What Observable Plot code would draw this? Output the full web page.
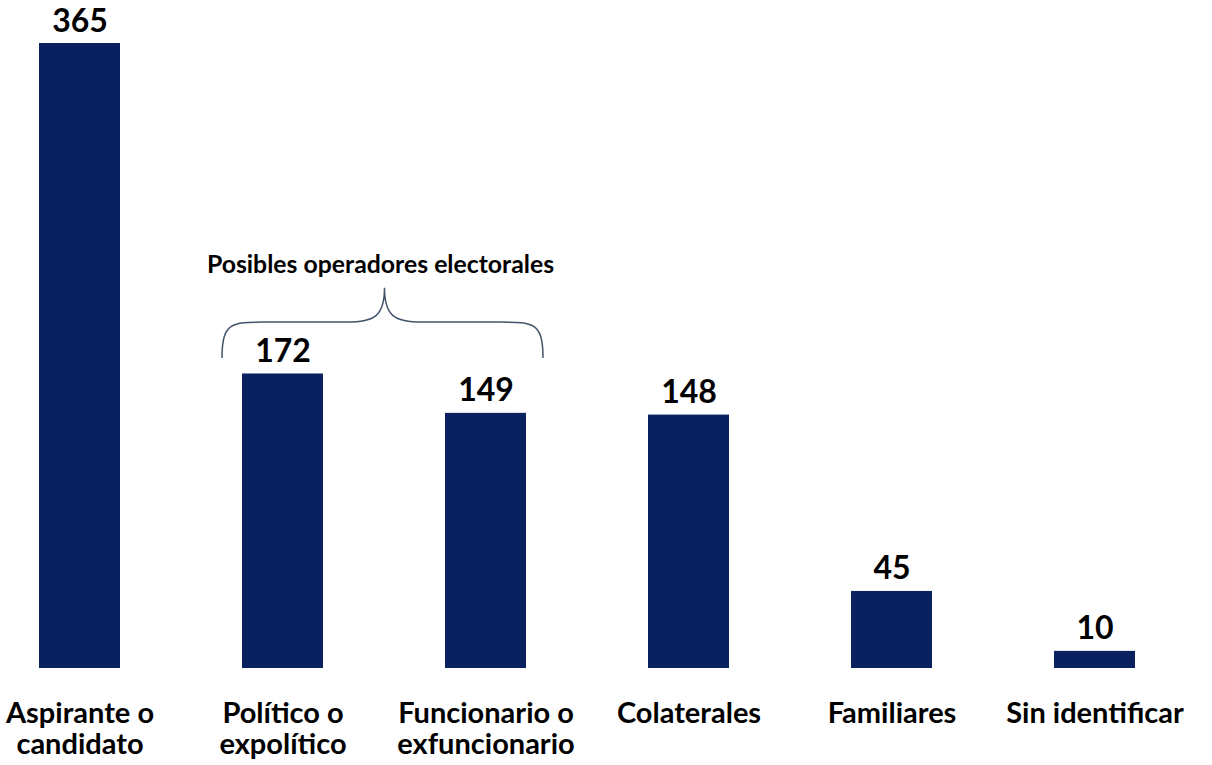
<!DOCTYPE html>
<html>
<head>
<meta charset="utf-8">
<script src="https://cdn.jsdelivr.net/npm/d3@7"></script>
<script src="https://cdn.jsdelivr.net/npm/@observablehq/plot@0.6"></script>
<style>
  html, body { margin: 0; padding: 0; background: #fff; }
  #chart svg { display: block; }
</style>
</head>
<body>
<div id="chart"></div>
<script>
const categories = ["Aspirante o\ncandidato", "Político o\nexpolítico", "Funcionario o\nexfuncionario", "Colaterales", "Familiares", "Sin identificar"];
const values = [365, 172, 149, 148, 45, 10];
const bracketLabel = "Posibles operadores electorales";
const bracketFrom = "Político o\nexpolítico";
const bracketTo = "Funcionario o\nexfuncionario";

const data = categories.map((c, i) => ({category: c, value: values[i]}));

function bracketMark(index, scales, values_, dimensions) {
  const x = scales.x, y = scales.y;
  const bw = x.bandwidth();
  const l = x(bracketFrom) - 20;
  const r = x(bracketTo) + bw + 17;
  const yb = y(181), ym = y(202), yt = y(222);
  const c = (l + r) / 2 + 2;
  const d = `M${l},${yb} C${l},${ym} ${l+10},${ym} ${l+42},${ym} L${c-38},${ym} C${c-10},${ym} ${c},${ym-6} ${c},${yt}` +
            ` C${c},${ym-6} ${c+10},${ym} ${c+38},${ym} L${r-42},${ym} C${r-10},${ym} ${r},${ym} ${r},${yb}`;
  const g = d3.create("svg:g");
  g.append("path").attr("d", d).attr("fill", "none").attr("stroke", "#44546a").attr("stroke-width", 1.5);
  g.append("text").attr("x", c - 4).attr("y", yt - 15)
    .attr("text-anchor", "middle")
    .attr("font-family", "Lato, sans-serif").attr("font-weight", "bold").attr("font-size", 24.8)
    .attr("fill", "#000").text(bracketLabel);
  return g.node();
}

const chart = Plot.plot({
  width: 1212,
  height: 765,
  marginLeft: 38,
  marginRight: 75,
  marginTop: 43,
  marginBottom: 97,
  style: {fontFamily: "Lato, sans-serif", background: "#fff"},
  x: {domain: categories, paddingInner: 0.6, paddingOuter: 0, axis: null},
  y: {domain: [0, 365], axis: null},
  marks: [
    Plot.barY(data, {x: "category", y: "value", fill: "#0a215f"}),
    Plot.text(data, {x: "category", y: "value", text: d => String(d.value), dy: -12, fontSize: 32, fontWeight: "bold", fill: "#000", lineAnchor: "bottom"}),
    Plot.text(data, {x: "category", frameAnchor: "bottom", text: "category", lineAnchor: "top", dy: 32, fontSize: 29, fontWeight: "bold", fill: "#000", lineHeight: 1.08}),
    bracketMark
  ]
});
document.getElementById("chart").append(chart);
</script>
</body>
</html>
